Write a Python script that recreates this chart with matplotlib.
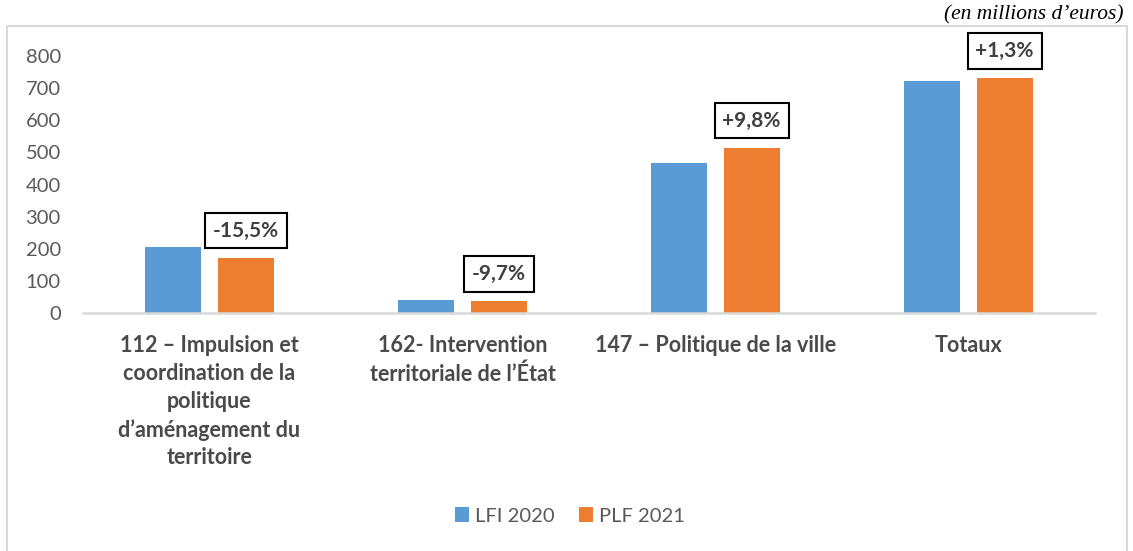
import matplotlib.pyplot as plt
from matplotlib.patches import Rectangle
import numpy as np

# Data
categories = ['112 – Impulsion et\ncoordination de la\npolitique\nd’aménagement du\nterritoire',
              '162- Intervention\nterritoriale de l’État',
              '147 – Politique de la ville',
              'Totaux']
lfi_2020 = [204, 40.5, 468, 723]
plf_2021 = [172.5, 36.5, 515, 732]
evolution = ['-15,5%', '-9,7%', '+9,8%', '+1,3%']
series_names = ['LFI 2020', 'PLF 2021']

plt.rcParams['font.family'] = ['Lato', 'DejaVu Sans']
blue, orange = '#5B9BD5', '#ED7D31'
grey_txt = '#595959'

fig = plt.figure(figsize=[11.33, 5.51], dpi=100)
ax = fig.add_axes([83/1133, 1 - 313/551, (1095 - 83)/1133, (313 - 56)/551])

x = np.arange(len(categories))
w = 0.222
off = 0.143
ax.bar(x - off, lfi_2020, w, color=blue, label=series_names[0])
ax.bar(x + off, plf_2021, w, color=orange, label=series_names[1])

for i, lab in enumerate(evolution):
    ax.annotate(lab, xy=(x[i] + off, plf_2021[i]), xytext=(0, 19.5), textcoords='offset points',
                ha='center', va='center', fontsize=15, fontweight='bold', color='#404040',
                bbox=dict(boxstyle='square,pad=0.38', fc='white', ec='black', lw=1.5),
                annotation_clip=False)

ax.set_xlim(-0.5, len(categories) - 0.5)
ax.set_ylim(0, 800)
ax.set_yticks(range(0, 801, 100))
ax.set_xticks(x)
ax.set_xticklabels(categories, fontsize=15.5, fontweight='bold', color='#4a4a4a', linespacing=1.4)
ax.tick_params(axis='x', length=0, pad=16)
ax.tick_params(axis='y', length=0, pad=16, labelsize=14.5, labelcolor=grey_txt)
for s in ['top', 'right', 'left']:
    ax.spines[s].set_visible(False)
ax.spines['bottom'].set_color('#d9d9d9')
ax.spines['bottom'].set_linewidth(1.8)

ax.legend(loc='center', bbox_to_anchor=(570/1133, 1 - 516/551), bbox_transform=fig.transFigure,
          ncol=2, frameon=False, fontsize=14.5, labelcolor=grey_txt, handlelength=0.7,
          handleheight=0.7, handletextpad=0.3, columnspacing=1.2)

# chart frame and unit note
fig.patches.append(Rectangle((7/1133, -0.01), 1120/1133, 1 - 26/551 + 0.01, transform=fig.transFigure,
                             fill=False, ec='#d9d9d9', lw=1.5))
fig.text(1124/1133, 1 - 15/551, '(en millions d’euros)', ha='right', va='center',
         fontsize=15.5, style='italic', family='Liberation Serif')

plt.savefig('out.png', dpi=100, facecolor='w')
